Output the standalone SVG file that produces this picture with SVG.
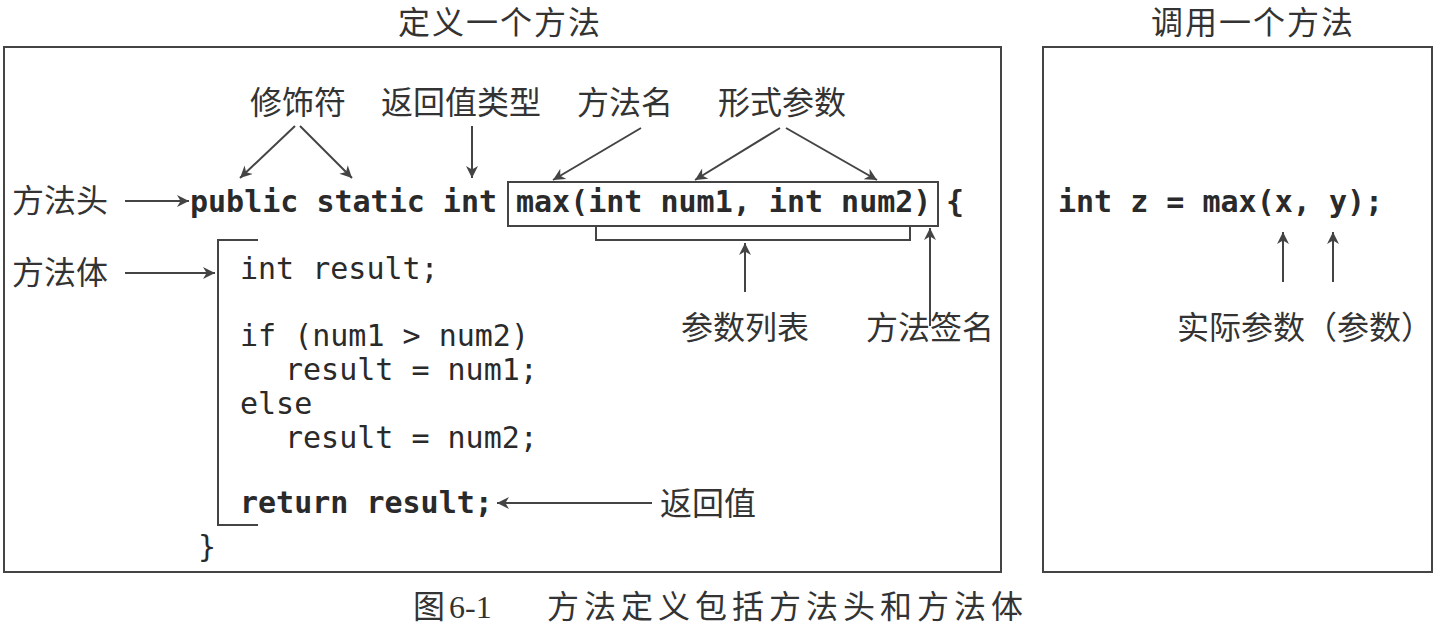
<svg xmlns="http://www.w3.org/2000/svg" width="1436" height="641" viewBox="0 0 1436 641">
<defs>
<style>
.cn{font-family:"Noto Sans CJK SC","Noto Sans",sans-serif;fill:#333;font-size:32px}
.code{font-family:"DejaVu Sans Mono","Liberation Mono",monospace;fill:#2a2a2a;font-size:30px}
.b{font-weight:bold}
.ln{stroke:#444;stroke-width:2;fill:none}
.arr{stroke:#444;stroke-width:2;fill:none;marker-end:url(#ah)}
</style>
<marker id="ah" viewBox="0 0 10 10" refX="10" refY="5" markerWidth="16" markerHeight="12" markerUnits="userSpaceOnUse" orient="auto">
<path d="M0,0 L10,5 L0,10 L3,5 Z" fill="#444"/>
</marker>
</defs>
<rect width="1436" height="641" fill="#fff"/>

<g id="titles">
<text class="cn" x="398" y="34" font-size="29" letter-spacing="2">定义一个方法</text>
<text class="cn" x="1151" y="34" font-size="29" letter-spacing="2">调用一个方法</text>
<text class="cn" x="413" y="618" font-size="30">图</text>
<text x="449" y="618" font-family="Liberation Serif, serif" font-size="32" fill="#333">6-1</text>
<text class="cn" x="547" y="618" font-size="30" letter-spacing="5">方法定义包括方法头和方法体</text>
</g>

<g id="frames">
<rect x="4" y="47" width="997" height="525" class="ln" stroke-width="2.5"/>
<rect x="1043" y="47" width="389" height="525" class="ln" stroke-width="2.5"/>
</g>

<g id="header-code">
<text class="code b" x="190" y="212">public static int</text>
<rect x="508" y="182" width="430" height="44" class="ln"/>
<text class="code b" x="516" y="212">max(int num1, int num2)</text>
<text class="code b" x="946" y="212">{</text>
</g>

<g id="body-code">
<path class="ln" d="M258,240 H218 V525 H258"/>
<text class="code" x="240" y="279">int result;</text>
<text class="code" x="240" y="346">if (num1 &gt; num2)</text>
<text class="code" x="285" y="380">result = num1;</text>
<text class="code" x="240" y="414">else</text>
<text class="code" x="285" y="448">result = num2;</text>
<text class="code b" x="240" y="513">return result;</text>
<text class="code" x="198" y="557">}</text>
</g>

<g id="labels">
<text class="cn" x="298" y="114" text-anchor="middle">修饰符</text>
<text class="cn" x="461" y="114" text-anchor="middle">返回值类型</text>
<text class="cn" x="625" y="114" text-anchor="middle">方法名</text>
<text class="cn" x="782" y="114" text-anchor="middle">形式参数</text>
<text class="cn" x="12" y="212">方法头</text>
<text class="cn" x="12" y="284">方法体</text>
<text class="cn" x="745" y="339" text-anchor="middle">参数列表</text>
<text class="cn" x="930" y="339" text-anchor="middle">方法签名</text>
<text class="cn" x="660" y="515">返回值</text>
</g>

<g id="call">
<text class="code b" x="1058" y="212">int z = max(x, y);</text>
<text class="cn" x="1305" y="339" text-anchor="middle">实际参数（参数）</text>
</g>

<g id="connectors">
<line class="arr" x1="295" y1="126" x2="240" y2="178"/>
<line class="arr" x1="300" y1="126" x2="352" y2="178"/>
<line class="arr" x1="472" y1="126" x2="472" y2="178"/>
<line class="arr" x1="641" y1="128" x2="553" y2="180"/>
<line class="arr" x1="780" y1="128" x2="695" y2="180"/>
<line class="arr" x1="786" y1="128" x2="877" y2="180"/>
<line class="arr" x1="125" y1="201" x2="189" y2="201"/>
<line class="arr" x1="125" y1="273" x2="215" y2="273"/>
<path class="ln" d="M596,226 V240 H910 V226"/>
<line class="arr" x1="745" y1="292" x2="745" y2="243"/>
<line class="arr" x1="930" y1="326" x2="930" y2="228"/>
<line class="arr" x1="652" y1="503" x2="497" y2="503"/>
<line class="arr" x1="1283" y1="282" x2="1283" y2="232"/>
<line class="arr" x1="1333" y1="282" x2="1333" y2="232"/>
</g>
</svg>
